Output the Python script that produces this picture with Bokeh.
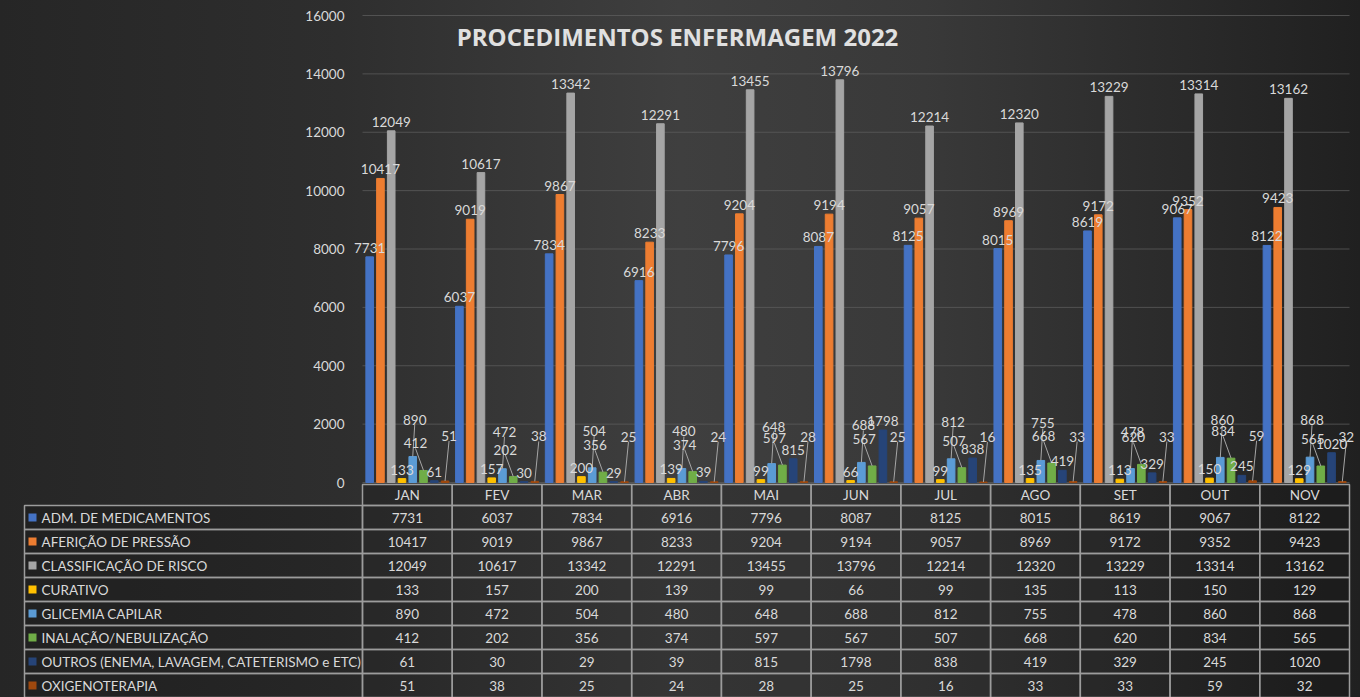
from bokeh.plotting import figure
from bokeh.models import ColumnDataSource, Range1d, FixedTicker, Label, LinearAxis
from bokeh.embed import file_html
from bokeh.resources import INLINE
from bokeh.core.properties import value

# ---------------- data ----------------
months = ["JAN", "FEV", "MAR", "ABR", "MAI", "JUN", "JUL", "AGO", "SET", "OUT", "NOV"]
series_names = [
    "ADM. DE MEDICAMENTOS",
    "AFERIÇÃO DE PRESSÃO",
    "CLASSIFICAÇÃO DE RISCO",
    "CURATIVO",
    "GLICEMIA CAPILAR",
    "INALAÇÃO/NEBULIZAÇÃO",
    "OUTROS (ENEMA, LAVAGEM, CATETERISMO e ETC)",
    "OXIGENOTERAPIA",
]
adm_medicamentos = [7731, 6037, 7834, 6916, 7796, 8087, 8125, 8015, 8619, 9067, 8122]
afericao_pressao = [10417, 9019, 9867, 8233, 9204, 9194, 9057, 8969, 9172, 9352, 9423]
classificacao_risco = [12049, 10617, 13342, 12291, 13455, 13796, 12214, 12320, 13229, 13314, 13162]
curativo = [133, 157, 200, 139, 99, 66, 99, 135, 113, 150, 129]
glicemia_capilar = [890, 472, 504, 480, 648, 688, 812, 755, 478, 860, 868]
inalacao_nebulizacao = [412, 202, 356, 374, 597, 567, 507, 668, 620, 834, 565]
outros = [61, 30, 29, 39, 815, 1798, 838, 419, 329, 245, 1020]
oxigenoterapia = [51, 38, 25, 24, 28, 25, 16, 33, 33, 59, 32]
y_ticks = [0, 2000, 4000, 6000, 8000, 10000, 12000, 14000, 16000]
title_text = "PROCEDIMENTOS ENFERMAGEM 2022"

all_series = [adm_medicamentos, afericao_pressao, classificacao_risco, curativo,
              glicemia_capilar, inalacao_nebulizacao, outros, oxigenoterapia]

# ---------------- styles / layout ----------------
colors = ["#4472C4", "#ED7D31", "#A5A5A5", "#FFC000", "#5B9BD5", "#70AD47", "#264478", "#9E480E"]
TXT = "#d9d9d9"
FONT = value("Lato")
FS = "13.5px"
label_lift = [4, 4, 4, 4, 32, 22, 4, 40]     # px above bar top
label_shift = [0, 0, 0, 0, 2, -8, 0, 4]      # px sideways
leader = [False, False, False, False, True, True, False, True]

W, H = 1360, 697
CAT_L, CAT_R = 362, 1349          # pixel extent of the category area
Y0_PX, Y16_PX = 482, 15           # pixel rows of value 0 and 16000
NCAT = len(months)
PX_X = (CAT_R - CAT_L) / NCAT     # px per category
PX_Y = 16000 / (Y0_PX - Y16_PX)   # value units per px
BAR_STEP = 0.12
BAR_W = 0.085


def xat(px):
    return (px - CAT_L) / PX_X


def yat(py):
    return (Y0_PX - py) * PX_Y


p = figure(width=W, height=H, x_range=Range1d(xat(0), xat(W)), y_range=Range1d(yat(H), yat(0)),
           output_backend="svg", toolbar_location=None, x_axis_location=None, y_axis_location=None,
           min_border=0, min_border_left=0, min_border_right=0, min_border_top=0, min_border_bottom=0)
p.background_fill_alpha = 0
p.border_fill_alpha = 0
p.outline_line_color = None
p.grid.visible = False
p.styles = {"background": "linear-gradient(90deg, #262626 0%, #2e2e2e 25%, #3f3f3f 50%, #393939 68%, #202020 100%)"}

# y axis pinned at the left edge of the category area
yax = LinearAxis(fixed_location=0, ticker=FixedTicker(ticks=y_ticks))
yax.axis_line_color = None
yax.major_tick_line_color = None
yax.minor_tick_line_color = None
yax.major_label_text_color = TXT
yax.major_label_text_font = "Lato"
yax.major_label_text_font_size = FS
yax.major_label_standoff = 12
p.add_layout(yax, "left")

# gridlines across the category area
p.segment(x0=0, x1=NCAT, y0=y_ticks, y1=y_ticks, line_color="#5e5e5e", line_alpha=0.75, line_width=1)

# bars + leader lines
for i, vals in enumerate(all_series):
    xs = [m + 0.5 + (i - 3.5) * BAR_STEP for m in range(NCAT)]
    lx = [x + label_shift[i] / PX_X for x in xs]
    ly = [v + label_lift[i] * PX_Y for v in vals]
    src = ColumnDataSource(dict(x=xs, top=vals, lx=lx, ly=ly))
    p.vbar(x="x", top="top", bottom=0, width=BAR_W, color=colors[i], source=src)
    if leader[i]:
        p.segment(x0="x", y0="top", x1="lx", y1="ly", line_color="#a6a6a6", line_width=1, source=src)

# data labels
for i, vals in enumerate(all_series):
    xs = [m + 0.5 + (i - 3.5) * BAR_STEP for m in range(NCAT)]
    lx = [x + label_shift[i] / PX_X for x in xs]
    ly = [v + label_lift[i] * PX_Y for v in vals]
    src = ColumnDataSource(dict(lx=lx, ly=ly, txt=[str(v) for v in vals]))
    p.text(x="lx", y="ly", text="txt", source=src, text_align="center", text_baseline="bottom",
           text_color=TXT, text_font=FONT, text_font_size=FS)

p.add_layout(Label(x=xat(677), y=yat(36), text=title_text,
                   text_align="center", text_baseline="middle", text_color="#e0e0e0",
                   text_font="Open Sans", text_font_style="bold", text_font_size="24px"))

# ---------------- data table ----------------
LINE = "#9c9c9c"
HDR_T, HDR_B = 484, 505
ROW_H = 24
ROW0 = 505
LEG_L = 24

hsrc = ColumnDataSource(dict(l=list(range(NCAT)), r=[m + 1 for m in range(NCAT)],
                             c=[m + 0.5 for m in range(NCAT)], txt=months))
p.quad(left="l", right="r", top=yat(HDR_T), bottom=yat(HDR_B), fill_color="#000000", fill_alpha=0.15,
       line_color=LINE, line_width=1.5, source=hsrc)
p.text(x="c", y=yat((HDR_T + HDR_B) / 2), text="txt", source=hsrc, text_align="center",
       text_baseline="middle", text_color=TXT, text_font=FONT, text_font_size=FS)

for r, (name, vals) in enumerate(zip(series_names, all_series)):
    top = ROW0 + r * ROW_H
    bot = top + ROW_H
    mid = (top + bot) / 2
    p.quad(left=xat(LEG_L), right=0, top=yat(top), bottom=yat(bot), fill_color="#000000", fill_alpha=0.15,
           line_color=LINE, line_width=1.5)
    p.quad(left=xat(LEG_L + 4), right=xat(LEG_L + 12), top=yat(mid - 4), bottom=yat(mid + 4),
           fill_color=colors[r], line_color=None)
    p.text(x=[xat(LEG_L + 17)], y=[yat(mid)], text=[name], text_align="left", text_baseline="middle",
           text_color=TXT, text_font=FONT, text_font_size=FS)
    rsrc = ColumnDataSource(dict(l=list(range(NCAT)), r=[m + 1 for m in range(NCAT)],
                                 c=[m + 0.5 for m in range(NCAT)], txt=[str(v) for v in vals]))
    p.quad(left="l", right="r", top=yat(top), bottom=yat(bot), fill_color="#000000", fill_alpha=0.15,
           line_color=LINE, line_width=1.5, source=rsrc)
    p.text(x="c", y=yat(mid), text="txt", source=rsrc, text_align="center", text_baseline="middle",
           text_color=TXT, text_font=FONT, text_font_size=FS)

open("out.html", "w").write(file_html(p, INLINE))
